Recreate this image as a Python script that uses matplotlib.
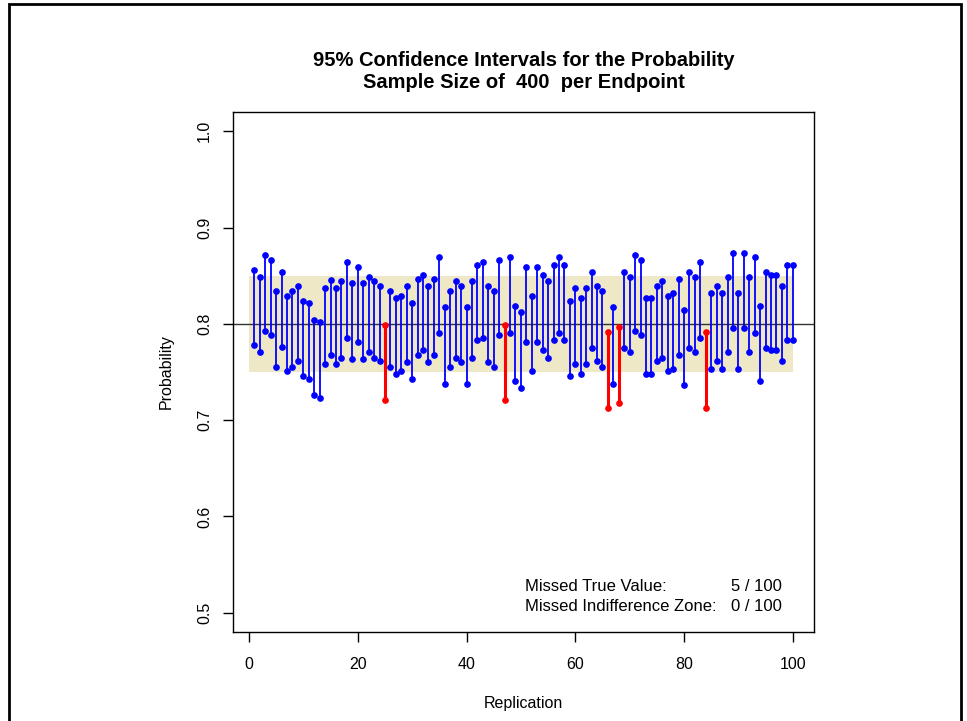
import matplotlib
matplotlib.use("Agg")
import matplotlib.pyplot as plt
import numpy as np

# --- data: 95% CI bounds, one per replication ---
replication = np.arange(1, 101)
upper = [0.856, 0.849, 0.872, 0.866, 0.834, 0.854, 0.829, 0.834, 0.839, 0.824,
         0.822, 0.804, 0.802, 0.837, 0.846, 0.837, 0.844, 0.864, 0.842, 0.859,
         0.842, 0.849, 0.844, 0.839, 0.799, 0.834, 0.827, 0.829, 0.839, 0.822,
         0.847, 0.851, 0.839, 0.847, 0.869, 0.817, 0.834, 0.844, 0.839, 0.817,
         0.844, 0.861, 0.864, 0.839, 0.834, 0.866, 0.799, 0.869, 0.819, 0.812,
         0.859, 0.829, 0.859, 0.851, 0.844, 0.861, 0.869, 0.861, 0.824, 0.837,
         0.827, 0.837, 0.854, 0.839, 0.834, 0.792, 0.817, 0.797, 0.854, 0.849,
         0.872, 0.866, 0.827, 0.827, 0.839, 0.844, 0.829, 0.832, 0.847, 0.814,
         0.854, 0.849, 0.864, 0.792, 0.832, 0.839, 0.832, 0.849, 0.874, 0.832,
         0.874, 0.849, 0.869, 0.819, 0.854, 0.851, 0.851, 0.839, 0.861, 0.861]
lower = [0.778, 0.771, 0.793, 0.788, 0.755, 0.776, 0.751, 0.755, 0.761, 0.746,
         0.743, 0.726, 0.723, 0.758, 0.768, 0.758, 0.765, 0.785, 0.763, 0.781,
         0.763, 0.771, 0.765, 0.761, 0.721, 0.755, 0.748, 0.751, 0.760, 0.743,
         0.768, 0.773, 0.760, 0.768, 0.791, 0.738, 0.755, 0.765, 0.760, 0.738,
         0.765, 0.783, 0.785, 0.760, 0.755, 0.788, 0.721, 0.791, 0.741, 0.733,
         0.781, 0.751, 0.781, 0.773, 0.765, 0.783, 0.791, 0.783, 0.746, 0.758,
         0.748, 0.758, 0.775, 0.761, 0.755, 0.713, 0.738, 0.718, 0.775, 0.771,
         0.793, 0.788, 0.748, 0.748, 0.761, 0.765, 0.751, 0.753, 0.768, 0.736,
         0.775, 0.771, 0.785, 0.713, 0.753, 0.761, 0.753, 0.771, 0.796, 0.753,
         0.796, 0.771, 0.791, 0.741, 0.775, 0.773, 0.773, 0.761, 0.783, 0.783]
true_value = 0.8
zone_low, zone_high = 0.75, 0.85
sample_size = 400

upper = np.array(upper)
lower = np.array(lower)
missed = (upper < true_value) | (lower > true_value)
missed_zone = (upper < zone_low) | (lower > zone_high)

plt.rcParams['font.family'] = ['Liberation Sans', 'DejaVu Sans']

fig = plt.figure(figsize=(9.67, 7.21), dpi=100)
ax = fig.add_axes([233 / 967, 1 - 632 / 721, (814 - 233) / 967, (632 - 112) / 721])

# indifference zone band
ax.fill_between([0, 100], zone_low, zone_high, color='#EEE8C6', lw=0, zorder=0)
ax.axhline(true_value, color='#333333', lw=1.0, zorder=1)

for x, lo, hi, m in zip(replication, lower, upper, missed):
    col = 'red' if m else 'blue'
    ax.plot([x, x], [lo, hi], color=col, lw=2.2 if m else 1.3, zorder=2,
            solid_capstyle='butt')
    ax.plot([x, x], [lo, hi], 'o', color=col, ms=3.8, mec=col, zorder=3)

ax.set_xlim(-2.94, 103.9)
ax.set_ylim(0.48, 1.02)
ax.set_xticks([0, 20, 40, 60, 80, 100])
ax.set_yticks([0.5, 0.6, 0.7, 0.8, 0.9, 1.0])
ax.set_yticklabels(['0.5', '0.6', '0.7', '0.8', '0.9', '1.0'], rotation=90, va='center')
ax.tick_params(direction='out', length=7, width=1, labelsize=11.5)
ax.tick_params(axis='x', pad=11)
ax.tick_params(axis='y', pad=8)
for s in ax.spines.values():
    s.set_linewidth(1.0)

ax.set_xlabel('Replication', fontsize=11.5, labelpad=17)
ax.set_ylabel('Probability', fontsize=11.5, labelpad=17)

xc = (233 + 814) / 2 / 967
fig.text(xc, 1 - 60 / 721, '95% Confidence Intervals for the Probability',
         ha='center', va='center', fontsize=14.5, fontweight='bold')
fig.text(xc, 1 - 83 / 721, f'Sample Size of  {sample_size}  per Endpoint',
         ha='center', va='center', fontsize=14.5, fontweight='bold')

n = len(replication)
ax.text(50.7, 0.5277, 'Missed True Value:', fontsize=12, va='center')
ax.text(98.0, 0.5277, f'{missed.sum()} / {n}', fontsize=12, va='center', ha='right')
ax.text(50.7, 0.5062, 'Missed Indifference Zone:', fontsize=12, va='center')
ax.text(98.0, 0.5062, f'{missed_zone.sum()} / {n}', fontsize=12, va='center', ha='right')

# outer frame
fig.patches.append(plt.Rectangle((8.5 / 967, -0.05), 952 / 967, 1.05 - 4 / 721,
                                 transform=fig.transFigure, fill=False,
                                 edgecolor='black', lw=2.0))

fig.savefig('out.png', dpi=100)
